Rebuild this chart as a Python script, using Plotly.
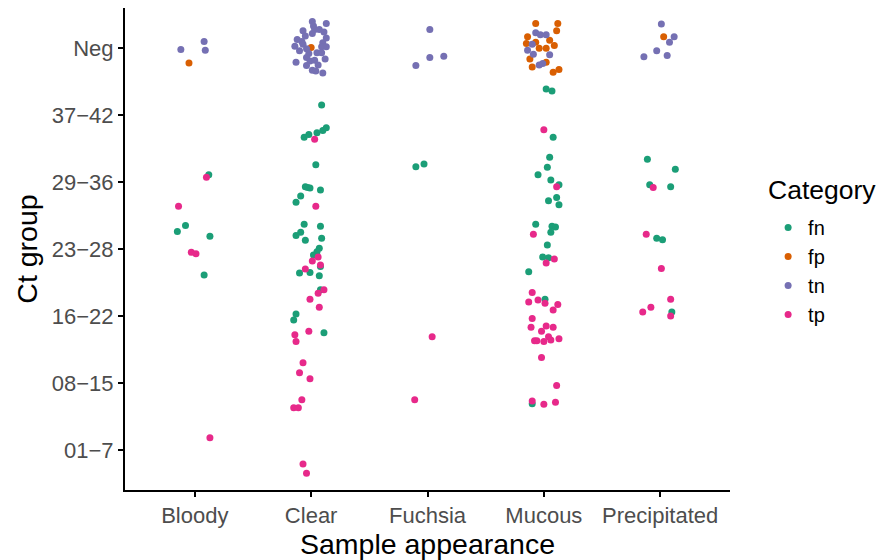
import plotly.graph_objects as go

appearance = ["Bloody", "Clear", "Fuchsia", "Mucous", "Precipitated"]
ct_groups = ["01\u22127", "08\u221215", "16\u221222", "23\u221228", "29\u221236", "37\u221242", "Neg"]
categories = ["fn", "fp", "tn", "tp"]
colors = {"fn": "#1B9E77", "fp": "#D95F02", "tn": "#7570B3", "tp": "#E7298A"}

# jittered positions (x: appearance index 1..5, y: Ct group index 1..7)
fn_x = [1.12, 0.92, 0.85, 1.13, 1.08,
        2.09, 1.94, 1.98, 2.05, 2.10, 2.13, 2.04, 1.95, 1.99, 1.97, 2.08, 1.91, 1.87,
        1.94, 2.08, 1.91, 1.87, 1.95, 2.09, 2.07, 2.05, 2.02, 2.08, 1.90, 1.99, 2.07,
        2.08, 1.87, 1.85, 2.11,
        2.90, 2.97,
        4.02, 4.07, 4.08, 4.05, 4.03, 3.95, 4.06, 4.13, 4.11, 4.04, 4.13, 3.93, 4.07,
        4.10, 4.06, 4.03, 3.99, 4.04, 3.87, 4.01, 3.90,
        4.89, 5.13, 4.91, 5.09, 4.97, 5.02, 5.10]
fn_y = [5.11, 4.35, 4.26, 4.19, 3.61,
        6.15, 5.67, 5.71, 5.735, 5.77, 5.81, 5.26, 4.93, 4.91, 4.92, 4.88, 4.79, 4.70,
        4.37, 4.34, 4.25, 4.20, 4.13, 4.16, 4.01, 3.96, 3.91, 3.74, 3.64, 3.65, 3.60,
        3.39, 3.03, 2.94, 2.75,
        5.23, 5.27,
        6.39, 6.36, 5.67, 5.37, 5.22, 5.11, 5.03, 4.96, 4.77, 4.72, 4.66, 4.37, 4.34,
        4.33, 4.25, 4.06, 3.88, 3.87, 3.66, 3.25, 1.69,
        5.34, 5.19, 4.96, 4.93, 4.16, 4.14, 3.06]

fp_x = [0.95,
        2.00,
        3.93, 4.12, 4.11, 3.86, 3.85, 3.93, 4.05, 4.09, 3.96, 4.02, 3.88, 4.02, 3.90, 4.08, 4.13,
        5.03]
fp_y = [6.78,
        7.01,
        7.37, 7.37, 7.26, 7.17, 7.07, 7.09, 7.12, 7.04, 7.00, 7.00, 6.84, 6.79, 6.72, 6.64, 6.68,
        7.17]

tn_x = [0.88, 1.08, 1.09,
        2.01, 2.02, 2.13, 1.93, 2.03, 2.07, 1.88, 2.01, 1.95, 1.92, 1.86, 2.13, 2.10, 2.09,
        2.13, 1.93, 1.98, 2.05, 2.09, 1.96, 2.12, 1.87, 1.99, 2.03, 1.96, 2.01, 2.04, 2.10,
        1.90, 2.06, 1.96, 2.11,
        3.02, 3.02, 3.14, 2.90,
        3.93, 3.97, 4.02, 3.90, 3.86, 3.91, 4.05, 3.96, 3.99,
        5.01, 5.12, 5.08, 4.97, 5.06, 4.86]
tn_y = [6.98, 7.10, 6.97,
        7.40, 7.33, 7.37, 7.26, 7.28, 7.28, 7.13, 7.22, 7.18, 7.10, 7.03, 7.15, 7.08, 7.02,
        7.02, 7.06, 6.92, 6.93, 6.93, 6.86, 6.84, 6.79, 6.81, 6.82, 6.74, 6.67, 6.66, 6.63,
        6.96, 6.75, 6.99, 7.24,
        7.28, 6.86, 6.88, 6.74,
        7.23, 7.20, 7.20, 7.06, 6.97, 6.91, 6.90, 6.75, 6.77,
        7.36, 7.17, 7.09, 6.96, 6.89, 6.87]

tp_x = [1.10, 0.86, 0.97, 1.01, 1.13,
        2.03, 2.04, 2.06, 2.01, 2.08, 1.95, 2.11, 2.06, 1.99, 2.07, 1.98, 1.86, 1.87,
        1.93, 1.90, 1.99, 1.92, 1.85, 1.89, 1.93, 1.96,
        3.04, 2.89,
        4.00, 4.11, 3.91, 4.09, 4.02, 3.90, 3.87, 3.95, 4.01, 4.12, 4.08, 3.90, 3.89,
        3.98, 4.02, 4.08, 4.04, 3.92, 3.94, 4.00, 4.06, 4.13, 3.98, 4.11, 3.90, 4.00, 4.10,
        4.94, 4.88, 5.01, 5.09, 4.92, 4.85, 5.09]
tp_y = [5.07, 4.64, 3.95, 3.93, 1.18,
        5.64, 4.64, 3.88, 3.82, 3.76, 3.70, 3.39, 3.34, 3.25, 3.13, 2.77, 2.72, 2.62,
        2.30, 2.15, 2.06, 1.75, 1.63, 1.63, 0.79, 0.65,
        2.69, 1.75,
        5.78, 4.93, 4.22, 3.85, 3.79, 3.35, 3.21, 3.24, 3.19, 3.17, 3.09, 2.96, 2.83,
        2.77, 2.85, 2.83, 2.69, 2.63, 2.63, 2.62, 2.64, 2.66, 2.38, 1.96, 1.73, 1.68, 1.71,
        4.92, 4.22, 3.71, 3.25, 3.13, 3.06, 3.00]

series = {"fn": (fn_x, fn_y), "fp": (fp_x, fp_y), "tn": (tn_x, tn_y), "tp": (tp_x, tp_y)}

fig = go.Figure()
for cat in categories:
    xs, ys = series[cat]
    fig.add_trace(go.Scatter(
        x=xs, y=ys, mode="markers", name=cat, legendgroup=cat,
        marker=dict(color=colors[cat], size=7, line=dict(width=0)),
    ))

font_family = "Liberation Sans, Arial, sans-serif"
fig.update_layout(
    width=884, height=552,
    margin=dict(l=117, r=162, t=0, b=70, autoexpand=False),
    plot_bgcolor="white", paper_bgcolor="white",
    font=dict(family=font_family, color="black"),
    legend=dict(
        font=dict(size=20, color="black"),
        x=1.063, y=0.585, xanchor="left", yanchor="top",
        tracegroupgap=0,
    ),
    showlegend=True,
    annotations=[dict(
        text="Category", xref="paper", yref="paper", x=1.061, y=0.622,
        xanchor="left", yanchor="middle", showarrow=False, borderpad=0,
        font=dict(size=26.5, color="black", family=font_family),
    )],
)
fig.update_xaxes(
    range=[0.4, 5.6], tickmode="array", tickvals=[1, 2, 3, 4, 5], ticktext=appearance,
    showline=True, linecolor="black", linewidth=2, ticks="outside", ticklen=5,
    tickwidth=1.5, tickcolor="black", showgrid=False, zeroline=False,
    tickfont=dict(size=22, color="#4D4D4D"), automargin=False,
    title=dict(text="Sample appearance", font=dict(size=28.5, color="black"), standoff=4),
)
fig.update_yaxes(
    range=[0.4, 7.6], tickmode="array", tickvals=list(range(1, 8)), ticktext=ct_groups,
    showline=True, linecolor="black", linewidth=2, ticks="outside", ticklen=5,
    tickwidth=1.5, tickcolor="black", showgrid=False, zeroline=False,
    tickfont=dict(size=22, color="#4D4D4D"), automargin=False,
    title=dict(text="Ct group", font=dict(size=28.5, color="black"), standoff=6),
)
fig.write_html("out.html")
